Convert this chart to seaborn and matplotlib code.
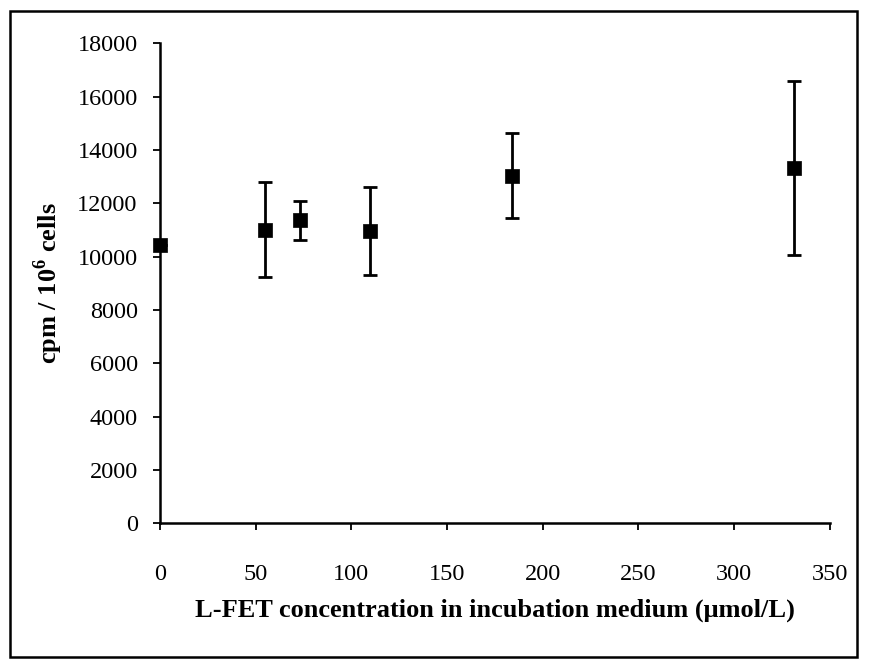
import matplotlib
matplotlib.use("Agg")
import matplotlib.pyplot as plt
import seaborn as sns
import pandas as pd
from matplotlib.patches import Rectangle

# Data
concentration = [0, 55, 73, 110, 184, 331]
cpm = [10450, 11010, 11360, 10970, 13040, 13320]
cpm_err = [0, 1780, 730, 1650, 1580, 3250]

x_ticks = [0, 50, 100, 150, 200, 250, 300, 350]
y_ticks = [0, 2000, 4000, 6000, 8000, 10000, 12000, 14000, 16000, 18000]

df = pd.DataFrame({"conc": concentration, "cpm": cpm, "err": cpm_err})

sns.set_style("white")
plt.rcParams["font.family"] = ["Liberation Serif", "DejaVu Serif"]
plt.rcParams["mathtext.fontset"] = "custom"
plt.rcParams["mathtext.bf"] = "Liberation Serif:bold"
plt.rcParams["mathtext.rm"] = "Liberation Serif"
plt.rcParams["text.color"] = "black"
plt.rcParams["axes.labelcolor"] = "black"

fig = plt.figure(figsize=(8.69, 6.69), dpi=100)
ax = fig.add_axes([0.184, 0.2178, 0.771, 0.7175])

ax.errorbar(df["conc"], df["cpm"], yerr=df["err"], fmt="none",
            ecolor="black", elinewidth=2.0, capsize=4.8, capthick=2.0, zorder=2)
sns.scatterplot(data=df, x="conc", y="cpm", marker="s", s=100, color="black",
                edgecolor="black", linewidth=0.5, ax=ax, zorder=3, clip_on=False)

ax.set_xlim(0, 350)
ax.set_ylim(0, 18000)
ax.set_xticks(x_ticks)
ax.set_yticks(y_ticks)
ax.set_xticklabels([str(v) for v in x_ticks])
ax.set_yticklabels([str(v) for v in y_ticks])

for s in ["top", "right"]:
    ax.spines[s].set_visible(False)
for s in ["left", "bottom"]:
    ax.spines[s].set_linewidth(1.8)
    ax.spines[s].set_color("black")

ax.tick_params(axis="x", direction="out", length=5, width=1.3, pad=24,
               labelsize=17.5, colors="black", bottom=True)
ax.tick_params(axis="y", direction="out", length=5, width=1.3, pad=11,
               labelsize=17.5, colors="black", left=True)

ax.set_xlabel("L-FET concentration in incubation medium (\u03bcmol/L)",
              fontsize=19, fontweight="bold", labelpad=10, color="black")
ax.set_ylabel("cpm / 10$^{\\mathbf{6}}$ cells", fontsize=19, fontweight="bold",
              labelpad=9, color="black")

fig.patches.append(Rectangle((10 / 869, 1 - 657 / 669), 847 / 869, 646 / 669,
                             transform=fig.transFigure, fill=False,
                             edgecolor="black", linewidth=1.8))

fig.savefig("out.png", dpi=100, facecolor="white")
